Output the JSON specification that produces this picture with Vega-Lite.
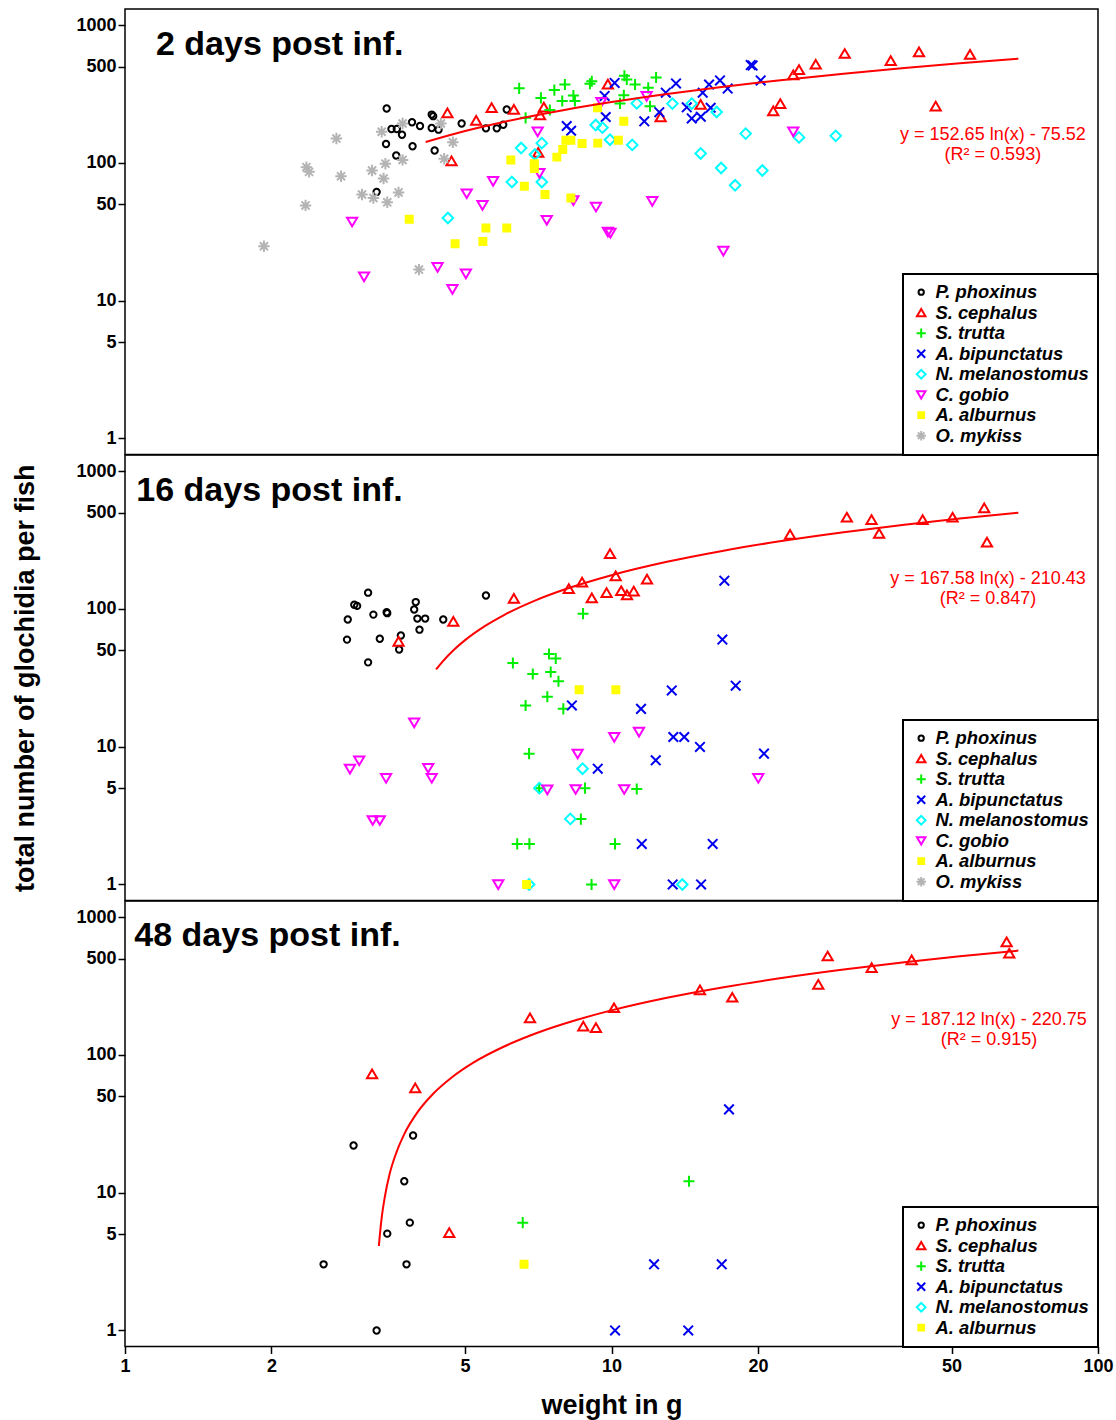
{
  "$schema": "https://vega.github.io/schema/vega-lite/v6.json",
  "padding": {"left": 11, "top": 8, "right": 0, "bottom": 0},
  "background": "white",
  "spacing": 0,
  "bounds": "flush",
  "datasets": {
    "d1": [
      {"s":"P. phoxinus","w":3.45,"n":248},{"s":"P. phoxinus","w":3.89,"n":197},{"s":"P. phoxinus","w":4.04,"n":185},{"s":"P. phoxinus","w":4.30,"n":218},{"s":"P. phoxinus","w":4.27,"n":224},{"s":"P. phoxinus","w":3.53,"n":176},{"s":"P. phoxinus","w":3.62,"n":176},{"s":"P. phoxinus","w":3.71,"n":160},{"s":"P. phoxinus","w":4.27,"n":179},{"s":"P. phoxinus","w":4.41,"n":174},{"s":"P. phoxinus","w":4.92,"n":193},{"s":"P. phoxinus","w":3.44,"n":137},{"s":"P. phoxinus","w":3.90,"n":132},{"s":"P. phoxinus","w":3.61,"n":113},{"s":"P. phoxinus","w":4.33,"n":123},{"s":"P. phoxinus","w":3.29,"n":61.5},{"s":"P. phoxinus","w":5.52,"n":178},{"s":"P. phoxinus","w":5.81,"n":178},{"s":"P. phoxinus","w":5.99,"n":189},{"s":"P. phoxinus","w":6.09,"n":244},
      {"s":"S. cephalus","w":4.60,"n":230},{"s":"S. cephalus","w":5.27,"n":203},{"s":"S. cephalus","w":4.69,"n":103},{"s":"S. cephalus","w":5.67,"n":251},{"s":"S. cephalus","w":6.30,"n":244},{"s":"S. cephalus","w":7.26,"n":253},{"s":"S. cephalus","w":7.13,"n":222},{"s":"S. cephalus","w":7.07,"n":119},{"s":"S. cephalus","w":9.83,"n":372},{"s":"S. cephalus","w":12.62,"n":215},{"s":"S. cephalus","w":15.25,"n":265},{"s":"S. cephalus","w":21.5,"n":238},{"s":"S. cephalus","w":22.23,"n":268},{"s":"S. cephalus","w":23.64,"n":434},{"s":"S. cephalus","w":24.29,"n":473},{"s":"S. cephalus","w":26.29,"n":518},{"s":"S. cephalus","w":30.16,"n":620},{"s":"S. cephalus","w":37.49,"n":551},{"s":"S. cephalus","w":42.86,"n":637},{"s":"S. cephalus","w":54.57,"n":611},{"s":"S. cephalus","w":46.39,"n":257},
      {"s":"S. trutta","w":6.46,"n":347},{"s":"S. trutta","w":7.16,"n":296},{"s":"S. trutta","w":7.63,"n":337},{"s":"S. trutta","w":8.02,"n":370},{"s":"S. trutta","w":7.92,"n":281},{"s":"S. trutta","w":8.35,"n":308},{"s":"S. trutta","w":8.41,"n":281},{"s":"S. trutta","w":9.03,"n":375},{"s":"S. trutta","w":9.11,"n":391},{"s":"S. trutta","w":10.63,"n":428},{"s":"S. trutta","w":10.75,"n":402},{"s":"S. trutta","w":11.18,"n":370},{"s":"S. trutta","w":10.6,"n":309},{"s":"S. trutta","w":10.41,"n":270},{"s":"S. trutta","w":6.66,"n":212},{"s":"S. trutta","w":7.47,"n":242},{"s":"S. trutta","w":11.9,"n":350},{"s":"S. trutta","w":12.35,"n":416},{"s":"S. trutta","w":12.0,"n":257},
      {"s":"A. bipunctatus","w":8.09,"n":185},{"s":"A. bipunctatus","w":8.26,"n":171},{"s":"A. bipunctatus","w":9.68,"n":306},{"s":"A. bipunctatus","w":9.73,"n":215},{"s":"A. bipunctatus","w":10.15,"n":380},{"s":"A. bipunctatus","w":11.68,"n":200},{"s":"A. bipunctatus","w":12.54,"n":233},{"s":"A. bipunctatus","w":12.93,"n":323},{"s":"A. bipunctatus","w":13.57,"n":377},{"s":"A. bipunctatus","w":14.28,"n":253},{"s":"A. bipunctatus","w":14.62,"n":210},{"s":"A. bipunctatus","w":15.26,"n":216},{"s":"A. bipunctatus","w":15.4,"n":323},{"s":"A. bipunctatus","w":15.87,"n":370},{"s":"A. bipunctatus","w":15.99,"n":251},{"s":"A. bipunctatus","w":16.71,"n":396},{"s":"A. bipunctatus","w":17.33,"n":346},{"s":"A. bipunctatus","w":19.33,"n":512},{"s":"A. bipunctatus","w":19.5,"n":508},{"s":"A. bipunctatus","w":20.26,"n":396},
      {"s":"N. melanostomus","w":4.61,"n":39.8},{"s":"N. melanostomus","w":6.52,"n":128},{"s":"N. melanostomus","w":7.19,"n":139},{"s":"N. melanostomus","w":6.96,"n":115},{"s":"N. melanostomus","w":6.24,"n":72.6},{"s":"N. melanostomus","w":7.19,"n":72.6},{"s":"N. melanostomus","w":9.28,"n":188},{"s":"N. melanostomus","w":9.58,"n":180},{"s":"N. melanostomus","w":9.93,"n":147},{"s":"N. melanostomus","w":11.03,"n":135},{"s":"N. melanostomus","w":11.27,"n":270},{"s":"N. melanostomus","w":13.34,"n":269},{"s":"N. melanostomus","w":14.62,"n":269},{"s":"N. melanostomus","w":16.45,"n":234},{"s":"N. melanostomus","w":18.87,"n":163},{"s":"N. melanostomus","w":15.25,"n":117},{"s":"N. melanostomus","w":16.8,"n":91.7},{"s":"N. melanostomus","w":17.95,"n":68.7},{"s":"N. melanostomus","w":20.42,"n":88},{"s":"N. melanostomus","w":24.29,"n":153},{"s":"N. melanostomus","w":28.9,"n":157},
      {"s":"C. gobio","w":2.93,"n":37.3},{"s":"C. gobio","w":3.1,"n":14.9},{"s":"C. gobio","w":4.39,"n":17.5},{"s":"C. gobio","w":5.04,"n":59.8},{"s":"C. gobio","w":5.02,"n":15.7},{"s":"C. gobio","w":4.71,"n":12.1},{"s":"C. gobio","w":7.05,"n":168},{"s":"C. gobio","w":5.71,"n":73.5},{"s":"C. gobio","w":5.43,"n":49.3},{"s":"C. gobio","w":7.11,"n":84},{"s":"C. gobio","w":8.35,"n":53.3},{"s":"C. gobio","w":9.29,"n":47.9},{"s":"C. gobio","w":7.36,"n":38.4},{"s":"C. gobio","w":9.83,"n":31.5},{"s":"C. gobio","w":9.95,"n":31.0},{"s":"C. gobio","w":12.13,"n":52.7},{"s":"C. gobio","w":9.53,"n":276},{"s":"C. gobio","w":11.81,"n":304},{"s":"C. gobio","w":23.64,"n":168},{"s":"C. gobio","w":16.98,"n":22.9},
      {"s":"A. alburnus","w":3.84,"n":39},{"s":"A. alburnus","w":4.77,"n":25.9},{"s":"A. alburnus","w":5.44,"n":26.9},{"s":"A. alburnus","w":5.52,"n":33.7},{"s":"A. alburnus","w":6.09,"n":33.7},{"s":"A. alburnus","w":6.21,"n":105},{"s":"A. alburnus","w":6.62,"n":67.7},{"s":"A. alburnus","w":6.94,"n":98.6},{"s":"A. alburnus","w":6.94,"n":90.8},{"s":"A. alburnus","w":7.30,"n":58.9},{"s":"A. alburnus","w":7.72,"n":110},{"s":"A. alburnus","w":7.94,"n":125},{"s":"A. alburnus","w":8.06,"n":146},{"s":"A. alburnus","w":8.25,"n":146},{"s":"A. alburnus","w":8.70,"n":138},{"s":"A. alburnus","w":9.37,"n":139},{"s":"A. alburnus","w":9.36,"n":251},{"s":"A. alburnus","w":10.33,"n":146},{"s":"A. alburnus","w":10.6,"n":200},{"s":"A. alburnus","w":8.25,"n":55.6},
      {"s":"O. mykiss","w":2.72,"n":150},{"s":"O. mykiss","w":2.36,"n":93},{"s":"O. mykiss","w":2.39,"n":86},{"s":"O. mykiss","w":2.78,"n":80},{"s":"O. mykiss","w":2.35,"n":49.1},{"s":"O. mykiss","w":1.93,"n":24.8},{"s":"O. mykiss","w":3.37,"n":168},{"s":"O. mykiss","w":3.72,"n":193},{"s":"O. mykiss","w":4.46,"n":193},{"s":"O. mykiss","w":4.72,"n":141},{"s":"O. mykiss","w":4.53,"n":107},{"s":"O. mykiss","w":3.72,"n":105},{"s":"O. mykiss","w":3.43,"n":98.6},{"s":"O. mykiss","w":3.22,"n":88},{"s":"O. mykiss","w":3.40,"n":77},{"s":"O. mykiss","w":3.07,"n":58.9},{"s":"O. mykiss","w":3.24,"n":55.6},{"s":"O. mykiss","w":3.46,"n":51.7},{"s":"O. mykiss","w":3.65,"n":61},{"s":"O. mykiss","w":4.02,"n":16.8}
    ],
    "d2": [
      {"s":"P. phoxinus","w":3.16,"n":131},{"s":"P. phoxinus","w":2.96,"n":107},{"s":"P. phoxinus","w":3.0,"n":105},{"s":"P. phoxinus","w":2.87,"n":83.7},{"s":"P. phoxinus","w":3.24,"n":90.8},{"s":"P. phoxinus","w":3.46,"n":93},{"s":"P. phoxinus","w":3.45,"n":94.5},{"s":"P. phoxinus","w":3.96,"n":112},{"s":"P. phoxinus","w":3.93,"n":98.9},{"s":"P. phoxinus","w":3.99,"n":85},{"s":"P. phoxinus","w":4.14,"n":85},{"s":"P. phoxinus","w":4.03,"n":70.6},{"s":"P. phoxinus","w":4.51,"n":83.7},{"s":"P. phoxinus","w":3.69,"n":64},{"s":"P. phoxinus","w":3.66,"n":50.7},{"s":"P. phoxinus","w":3.34,"n":60.7},{"s":"P. phoxinus","w":2.86,"n":59.8},{"s":"P. phoxinus","w":3.16,"n":40.9},{"s":"P. phoxinus","w":5.52,"n":125},
      {"s":"S. cephalus","w":3.65,"n":58},{"s":"S. cephalus","w":4.73,"n":81},{"s":"S. cephalus","w":6.30,"n":119},{"s":"S. cephalus","w":8.17,"n":140},{"s":"S. cephalus","w":8.70,"n":156},{"s":"S. cephalus","w":9.93,"n":251},{"s":"S. cephalus","w":10.2,"n":173},{"s":"S. cephalus","w":9.11,"n":120},{"s":"S. cephalus","w":9.77,"n":131},{"s":"S. cephalus","w":10.47,"n":135},{"s":"S. cephalus","w":10.76,"n":126},{"s":"S. cephalus","w":11.11,"n":134},{"s":"S. cephalus","w":11.83,"n":164},{"s":"S. cephalus","w":23.28,"n":346},{"s":"S. cephalus","w":30.46,"n":461},{"s":"S. cephalus","w":34.24,"n":443},{"s":"S. cephalus","w":35.49,"n":352},{"s":"S. cephalus","w":43.61,"n":443},{"s":"S. cephalus","w":50.24,"n":461},{"s":"S. cephalus","w":58.36,"n":539},{"s":"S. cephalus","w":59.13,"n":304},
      {"s":"S. trutta","w":8.74,"n":92.3},{"s":"S. trutta","w":6.27,"n":40.5},{"s":"S. trutta","w":7.44,"n":47},{"s":"S. trutta","w":7.68,"n":43.6},{"s":"S. trutta","w":6.89,"n":33.7},{"s":"S. trutta","w":7.50,"n":34.8},{"s":"S. trutta","w":7.78,"n":29.8},{"s":"S. trutta","w":7.38,"n":23},{"s":"S. trutta","w":6.66,"n":19.9},{"s":"S. trutta","w":7.96,"n":18.8},{"s":"S. trutta","w":6.77,"n":8.9},{"s":"S. trutta","w":7.10,"n":5.0},{"s":"S. trutta","w":8.82,"n":5.0},{"s":"S. trutta","w":11.27,"n":4.93},{"s":"S. trutta","w":8.65,"n":2.98},{"s":"S. trutta","w":6.40,"n":1.97},{"s":"S. trutta","w":6.78,"n":1.97},{"s":"S. trutta","w":10.17,"n":1.97},{"s":"S. trutta","w":9.10,"n":1},
      {"s":"A. bipunctatus","w":8.29,"n":19.9},{"s":"A. bipunctatus","w":9.37,"n":6.92},{"s":"A. bipunctatus","w":17.06,"n":160},{"s":"A. bipunctatus","w":16.9,"n":59.8},{"s":"A. bipunctatus","w":18.0,"n":27.7},{"s":"A. bipunctatus","w":13.3,"n":25.6},{"s":"A. bipunctatus","w":11.5,"n":18.8},{"s":"A. bipunctatus","w":13.4,"n":11.75},{"s":"A. bipunctatus","w":14.11,"n":11.75},{"s":"A. bipunctatus","w":15.2,"n":9.95},{"s":"A. bipunctatus","w":20.58,"n":8.9},{"s":"A. bipunctatus","w":12.33,"n":7.96},{"s":"A. bipunctatus","w":11.54,"n":1.97},{"s":"A. bipunctatus","w":16.14,"n":1.97},{"s":"A. bipunctatus","w":13.36,"n":1},{"s":"A. bipunctatus","w":15.28,"n":1},
      {"s":"N. melanostomus","w":8.72,"n":6.92},{"s":"N. melanostomus","w":7.11,"n":5.0},{"s":"N. melanostomus","w":8.23,"n":2.99},{"s":"N. melanostomus","w":6.77,"n":1},{"s":"N. melanostomus","w":13.98,"n":1},
      {"s":"C. gobio","w":3.93,"n":14.9},{"s":"C. gobio","w":3.03,"n":7.92},{"s":"C. gobio","w":2.90,"n":6.88},{"s":"C. gobio","w":3.44,"n":5.91},{"s":"C. gobio","w":4.20,"n":6.99},{"s":"C. gobio","w":4.27,"n":5.91},{"s":"C. gobio","w":3.23,"n":2.92},{"s":"C. gobio","w":3.34,"n":2.92},{"s":"C. gobio","w":5.85,"n":1},{"s":"C. gobio","w":8.52,"n":8.87},{"s":"C. gobio","w":10.13,"n":11.71},{"s":"C. gobio","w":11.39,"n":12.77},{"s":"C. gobio","w":7.38,"n":4.87},{"s":"C. gobio","w":8.44,"n":4.9},{"s":"C. gobio","w":10.62,"n":4.9},{"s":"C. gobio","w":10.13,"n":1},{"s":"C. gobio","w":20.03,"n":5.91},
      {"s":"A. alburnus","w":8.58,"n":25.9},{"s":"A. alburnus","w":10.21,"n":25.9},{"s":"A. alburnus","w":6.69,"n":1}
    ],
    "d3": [
      {"s":"P. phoxinus","w":2.95,"n":22},{"s":"P. phoxinus","w":3.91,"n":26},{"s":"P. phoxinus","w":3.75,"n":12.1},{"s":"P. phoxinus","w":3.85,"n":6.06},{"s":"P. phoxinus","w":3.46,"n":5.04},{"s":"P. phoxinus","w":2.56,"n":3.02},{"s":"P. phoxinus","w":3.79,"n":3.02},{"s":"P. phoxinus","w":3.29,"n":1},
      {"s":"S. cephalus","w":3.22,"n":72.5},{"s":"S. cephalus","w":3.95,"n":57.5},{"s":"S. cephalus","w":4.64,"n":5.12},{"s":"S. cephalus","w":6.80,"n":185},{"s":"S. cephalus","w":8.75,"n":161},{"s":"S. cephalus","w":9.29,"n":157},{"s":"S. cephalus","w":10.12,"n":219},{"s":"S. cephalus","w":15.2,"n":295},{"s":"S. cephalus","w":17.71,"n":261},{"s":"S. cephalus","w":26.61,"n":324},{"s":"S. cephalus","w":27.82,"n":520},{"s":"S. cephalus","w":34.26,"n":428},{"s":"S. cephalus","w":41.4,"n":487},{"s":"S. cephalus","w":64.9,"n":658},{"s":"S. cephalus","w":65.7,"n":545},
      {"s":"S. trutta","w":6.57,"n":6.06},{"s":"S. trutta","w":14.43,"n":12.1},
      {"s":"A. bipunctatus","w":17.44,"n":40.2},{"s":"A. bipunctatus","w":10.17,"n":1},{"s":"A. bipunctatus","w":12.23,"n":3.02},{"s":"A. bipunctatus","w":14.38,"n":1},{"s":"A. bipunctatus","w":16.85,"n":3.02},
      {"s":"A. alburnus","w":6.61,"n":3.02}
    ],
    "f1": [
      {"w":4.15,"n":141.7},{"w":5,"n":170.2},{"w":6,"n":198.0},{"w":8,"n":241.9},{"w":10,"n":276.0},{"w":13,"n":316.0},{"w":17,"n":357.0},{"w":22,"n":396.3},{"w":30,"n":443.7},{"w":40,"n":487.6},{"w":52,"n":527.6},{"w":68.6,"n":569.9}
    ],
    "f2": [
      {"w":4.36,"n":36.3},{"w":4.5,"n":41.6},{"w":4.75,"n":50.7},{"w":5,"n":59.3},{"w":5.5,"n":75.3},{"w":6,"n":89.8},{"w":7,"n":115.7},{"w":8,"n":138.0},{"w":10,"n":175.4},{"w":13,"n":219.4},{"w":17,"n":264.4},{"w":22,"n":307.6},{"w":30,"n":359.5},{"w":40,"n":407.8},{"w":52,"n":451.7},{"w":68.6,"n":498.2}
    ],
    "f3": [
      {"w":3.325,"n":4.1},{"w":3.34,"n":4.9},{"w":3.37,"n":6.6},{"w":3.42,"n":9.3},{"w":3.5,"n":13.7},{"w":3.6,"n":18.9},{"w":3.75,"n":26.6},{"w":4.0,"n":38.7},{"w":4.3,"n":52.2},{"w":4.7,"n":68.8},{"w":5.2,"n":87.8},{"w":6,"n":114.5},{"w":7,"n":143.4},{"w":8.5,"n":179.7},{"w":10,"n":210.1},{"w":13,"n":259.2},{"w":17,"n":309.4},{"w":22,"n":357.6},{"w":30,"n":415.7},{"w":40,"n":469.5},{"w":52,"n":518.6},{"w":68.6,"n":570.5}
    ],
    "t1": [{"w":1.158,"n":601,"label":"2 days post inf."}],
    "t2": [{"w":1.055,"n":604,"label":"16 days post inf."}],
    "t3": [{"w":1.045,"n":615,"label":"48 days post inf."}],
    "e1": [{"w":60.8,"n":147.3,"label":"y = 152.65 ln(x) - 75.52"},{"w":60.8,"n":105.5,"label":"(R² = 0.593)"}],
    "e2": [{"w":59.4,"n":151.9,"label":"y = 167.58 ln(x) - 210.43"},{"w":59.4,"n":108.2,"label":"(R² = 0.847)"}],
    "e3": [{"w":59.7,"n":164,"label":"y = 187.12 ln(x) - 220.75"},{"w":59.7,"n":118.8,"label":"(R² = 0.915)"}]
  },
  "vconcat": [
    {
      "width": 973, "height": 445.5,
      "encoding": {
        "x": {"field": "w", "type": "quantitative", "scale": {"type": "log", "domain": [1, 100], "nice": false}, "axis": null},
        "y": {"field": "n", "type": "quantitative", "scale": {"type": "log", "domain": [0.765, 1307], "nice": false}, "axis": {"values": [1, 5, 10, 50, 100, 500, 1000], "format": "d", "title": null}}
      },
      "layer": [
        {
          "data": {"name": "d1"},
          "mark": {"type": "point", "filled": true, "size": 144, "strokeWidth": 2, "opacity": 1},
          "encoding": {
            "shape": {"field": "s", "type": "nominal", "title": null, "scale": {"domain": ["P. phoxinus","S. cephalus","S. trutta","A. bipunctatus","N. melanostomus","C. gobio","A. alburnus","O. mykiss"], "range": ["M-0.53,0A0.53,0.53,0,1,0,0.53,0A0.53,0.53,0,1,0,-0.53,0Z","M0,-0.75L0.85,0.7L-0.85,0.7Z","M-0.92,0H0.92M0,-0.92V0.92","M-0.8,-0.8L0.8,0.8M-0.8,0.8L0.8,-0.8","M-0.88,0L0,-0.88L0.88,0L0,0.88Z","M0,0.75L0.85,-0.7L-0.85,-0.7Z","M-0.58,-0.58H0.58V0.58H-0.58Z","M-0.95,0H0.95M0,-0.95V0.95M-0.67,-0.67L0.67,0.67M-0.67,0.67L0.67,-0.67"]}},
            "stroke": {"field": "s", "type": "nominal", "title": null, "scale": {"domain": ["P. phoxinus","S. cephalus","S. trutta","A. bipunctatus","N. melanostomus","C. gobio","A. alburnus","O. mykiss"], "range": ["#000000","#ff0000","#00ee00","#0000ee","#00ffff","#ff00ff","#ffff00","#b4b4b4"]}},
            "fill": {"field": "s", "type": "nominal", "title": null, "scale": {"domain": ["P. phoxinus","S. cephalus","S. trutta","A. bipunctatus","N. melanostomus","C. gobio","A. alburnus","O. mykiss"], "range": ["transparent","transparent","transparent","transparent","transparent","transparent","#ffff00","transparent"]}}
          }
        },
        {"data": {"name": "f1"}, "mark": {"type": "line", "color": "#ff0000", "strokeWidth": 2, "interpolate": "monotone"}, "encoding": {}},
        {"data": {"name": "t1"}, "mark": {"type": "text", "align": "left", "baseline": "alphabetic", "fontSize": 34, "fontWeight": "bold", "color": "#000000"}, "encoding": {"text": {"field": "label"}}},
        {"data": {"name": "e1"}, "mark": {"type": "text", "align": "center", "baseline": "alphabetic", "fontSize": 18, "color": "#ff0000"}, "encoding": {"text": {"field": "label"}}}
      ]
    },
    {
      "width": 973, "height": 445.5,
      "encoding": {
        "x": {"field": "w", "type": "quantitative", "scale": {"type": "log", "domain": [1, 100], "nice": false}, "axis": null},
        "y": {"field": "n", "type": "quantitative", "scale": {"type": "log", "domain": [0.765, 1307], "nice": false}, "axis": {"values": [1, 5, 10, 50, 100, 500, 1000], "format": "d", "title": "total number of glochidia per fish"}}
      },
      "layer": [
        {
          "data": {"name": "d2"},
          "mark": {"type": "point", "filled": true, "size": 144, "strokeWidth": 2, "opacity": 1},
          "encoding": {
            "shape": {"field": "s", "type": "nominal", "title": null, "scale": {"domain": ["P. phoxinus","S. cephalus","S. trutta","A. bipunctatus","N. melanostomus","C. gobio","A. alburnus","O. mykiss"], "range": ["M-0.53,0A0.53,0.53,0,1,0,0.53,0A0.53,0.53,0,1,0,-0.53,0Z","M0,-0.75L0.85,0.7L-0.85,0.7Z","M-0.92,0H0.92M0,-0.92V0.92","M-0.8,-0.8L0.8,0.8M-0.8,0.8L0.8,-0.8","M-0.88,0L0,-0.88L0.88,0L0,0.88Z","M0,0.75L0.85,-0.7L-0.85,-0.7Z","M-0.58,-0.58H0.58V0.58H-0.58Z","M-0.95,0H0.95M0,-0.95V0.95M-0.67,-0.67L0.67,0.67M-0.67,0.67L0.67,-0.67"]}},
            "stroke": {"field": "s", "type": "nominal", "title": null, "scale": {"domain": ["P. phoxinus","S. cephalus","S. trutta","A. bipunctatus","N. melanostomus","C. gobio","A. alburnus","O. mykiss"], "range": ["#000000","#ff0000","#00ee00","#0000ee","#00ffff","#ff00ff","#ffff00","#b4b4b4"]}},
            "fill": {"field": "s", "type": "nominal", "title": null, "scale": {"domain": ["P. phoxinus","S. cephalus","S. trutta","A. bipunctatus","N. melanostomus","C. gobio","A. alburnus","O. mykiss"], "range": ["transparent","transparent","transparent","transparent","transparent","transparent","#ffff00","transparent"]}}
          }
        },
        {"data": {"name": "f2"}, "mark": {"type": "line", "color": "#ff0000", "strokeWidth": 2, "interpolate": "monotone"}, "encoding": {}},
        {"data": {"name": "t2"}, "mark": {"type": "text", "align": "left", "baseline": "alphabetic", "fontSize": 34, "fontWeight": "bold", "color": "#000000"}, "encoding": {"text": {"field": "label"}}},
        {"data": {"name": "e2"}, "mark": {"type": "text", "align": "center", "baseline": "alphabetic", "fontSize": 18, "color": "#ff0000"}, "encoding": {"text": {"field": "label"}}}
      ]
    },
    {
      "width": 973, "height": 445.5,
      "encoding": {
        "x": {"field": "w", "type": "quantitative", "scale": {"type": "log", "domain": [1, 100], "nice": false}, "axis": {"values": [1, 2, 5, 10, 20, 50, 100], "format": "d", "title": "weight in g"}},
        "y": {"field": "n", "type": "quantitative", "scale": {"type": "log", "domain": [0.765, 1307], "nice": false}, "axis": {"values": [1, 5, 10, 50, 100, 500, 1000], "format": "d", "title": null}}
      },
      "layer": [
        {
          "data": {"name": "d3"},
          "mark": {"type": "point", "filled": true, "size": 144, "strokeWidth": 2, "opacity": 1},
          "encoding": {
            "shape": {"field": "s", "type": "nominal", "title": null, "scale": {"domain": ["P. phoxinus","S. cephalus","S. trutta","A. bipunctatus","N. melanostomus","A. alburnus"], "range": ["M-0.53,0A0.53,0.53,0,1,0,0.53,0A0.53,0.53,0,1,0,-0.53,0Z","M0,-0.75L0.85,0.7L-0.85,0.7Z","M-0.92,0H0.92M0,-0.92V0.92","M-0.8,-0.8L0.8,0.8M-0.8,0.8L0.8,-0.8","M-0.88,0L0,-0.88L0.88,0L0,0.88Z","M-0.58,-0.58H0.58V0.58H-0.58Z"]}},
            "stroke": {"field": "s", "type": "nominal", "title": null, "scale": {"domain": ["P. phoxinus","S. cephalus","S. trutta","A. bipunctatus","N. melanostomus","A. alburnus"], "range": ["#000000","#ff0000","#00ee00","#0000ee","#00ffff","#ffff00"]}},
            "fill": {"field": "s", "type": "nominal", "title": null, "scale": {"domain": ["P. phoxinus","S. cephalus","S. trutta","A. bipunctatus","N. melanostomus","A. alburnus"], "range": ["transparent","transparent","transparent","transparent","transparent","#ffff00"]}}
          }
        },
        {"data": {"name": "f3"}, "mark": {"type": "line", "color": "#ff0000", "strokeWidth": 2, "interpolate": "monotone"}, "encoding": {}},
        {"data": {"name": "t3"}, "mark": {"type": "text", "align": "left", "baseline": "alphabetic", "fontSize": 34, "fontWeight": "bold", "color": "#000000"}, "encoding": {"text": {"field": "label"}}},
        {"data": {"name": "e3"}, "mark": {"type": "text", "align": "center", "baseline": "alphabetic", "fontSize": 18, "color": "#ff0000"}, "encoding": {"text": {"field": "label"}}}
      ]
    }
  ],
  "resolve": {
    "scale": {"shape": "independent", "stroke": "independent", "fill": "independent"},
    "legend": {"shape": "independent", "stroke": "independent", "fill": "independent"}
  },
  "config": {
    "font": "Liberation Sans",
    "view": {"stroke": "#000000", "strokeWidth": 1.5},
    "axis": {"grid": false, "domain": false, "tickColor": "#000000", "tickSize": 7, "tickWidth": 1.5, "labelFont": "Liberation Sans", "labelFontSize": 18, "labelFontWeight": "bold", "labelColor": "#000000", "labelPadding": 2, "labelFlush": false, "labelOverlap": false, "titleFont": "Liberation Sans", "titleFontSize": 27, "titleFontWeight": "bold", "titleColor": "#000000"},
    "axisY": {"titlePadding": 36},
    "axisX": {"titlePadding": 17, "labelPadding": 4},
    "legend": {"orient": "bottom-right", "offset": 0, "padding": 9, "strokeColor": "#000000", "strokeWidth": 2, "fillColor": "#ffffff", "labelFont": "Liberation Sans", "labelFontSize": 18.4, "labelFontWeight": "bold", "labelFontStyle": "italic", "labelColor": "#000000", "symbolSize": 100, "symbolStrokeWidth": 2, "rowPadding": 1.5, "symbolOffset": 0, "labelOffset": 5, "labelLimit": 300}
  }
}
